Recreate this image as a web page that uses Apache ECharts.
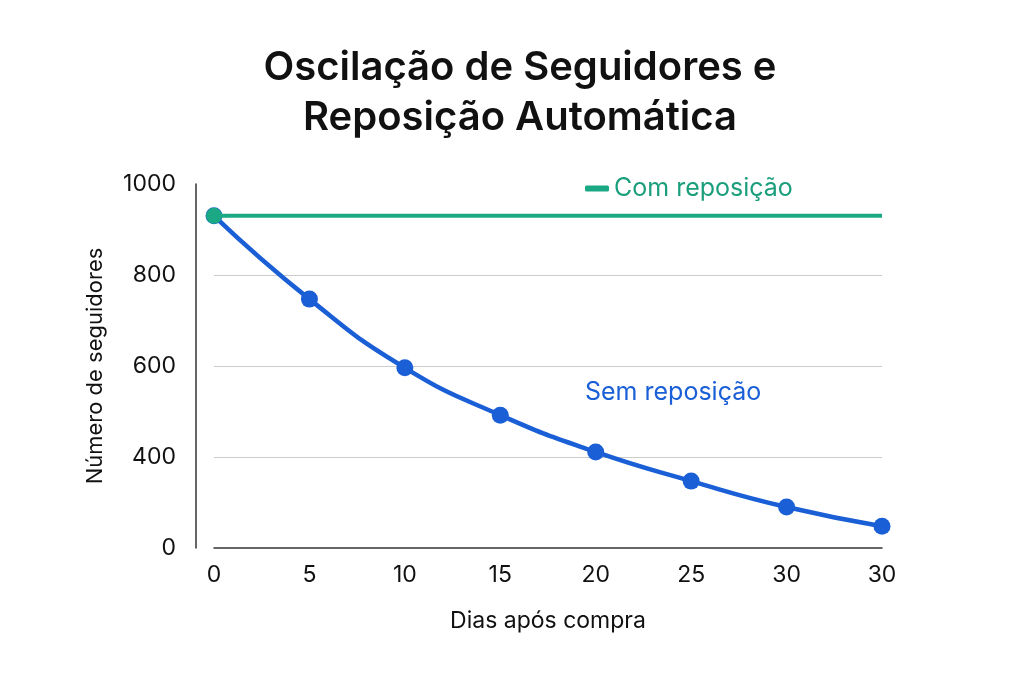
<!DOCTYPE html><html><head><meta charset="utf-8"><script src="https://cdn.jsdelivr.net/npm/echarts@6/dist/echarts.min.js"></script></head><body style="margin:0"><div id="c" style="width:1024px;height:683px"></div><script>
const categories=['0','5','10','15','20','25','30','30'];
const semReposicao=[930,747,596,492,411,347,290,248];
const comReposicao=[930,930,930,930,930,930,930,930];
const c=echarts.init(document.getElementById('c'));
const F='Inter, "Noto Sans", sans-serif';
c.setOption({
 title:{text:'Oscilação de Seguidores e\nReposição Automática',left:515,top:38,textAlign:'center',textStyle:{fontFamily:F,fontSize:40,fontWeight:600,color:'#111',lineHeight:50}},
 legend:{data:[{name:'Com reposição',icon:'roundRect'}],left:580,top:171,itemWidth:24,itemHeight:6,textStyle:{fontFamily:F,fontSize:25,color:'#1a9e7c'}},
 grid:{left:214,right:142,top:184,bottom:135},
 xAxis:{type:'category',data:categories,boundaryGap:false,name:'Dias após compra',nameLocation:'middle',nameGap:62,nameTextStyle:{fontFamily:F,fontSize:23,color:'#111'},
  axisLine:{lineStyle:{color:'#333',width:1.5}},axisTick:{show:false},axisLabel:{fontFamily:F,fontSize:23,color:'#111',margin:16}},
 yAxis:{type:'value',min:200,max:1000,interval:200,offset:18,name:'Número de seguidores',nameLocation:'middle',nameGap:90,nameTextStyle:{fontFamily:F,fontSize:22,color:'#111'},
  axisLine:{show:true,lineStyle:{color:'#333',width:1.5}},axisTick:{show:false},splitLine:{lineStyle:{color:['transparent','#ccc','#ccc','#ccc','transparent']}},
  axisLabel:{fontFamily:F,fontSize:23,color:'#111',margin:20,formatter:v=>v===200?'0':String(v)}},
 graphic:[{type:'text',left:585,top:380,style:{text:'Sem reposição',fontFamily:F,fontSize:25,fill:'#1a5fd6'}}],
 series:[
  {name:'Com reposição',type:'line',data:comReposicao,color:'#1aa984',lineStyle:{width:4},symbol:'circle',symbolSize:(v,p)=>p.dataIndex===0?16:0,z:3},
  {name:'Sem reposição',type:'line',data:semReposicao,smooth:true,color:'#1a5fd6',lineStyle:{width:4.5},symbol:'circle',symbolSize:17,z:2}
 ]
});
</script></body></html>
